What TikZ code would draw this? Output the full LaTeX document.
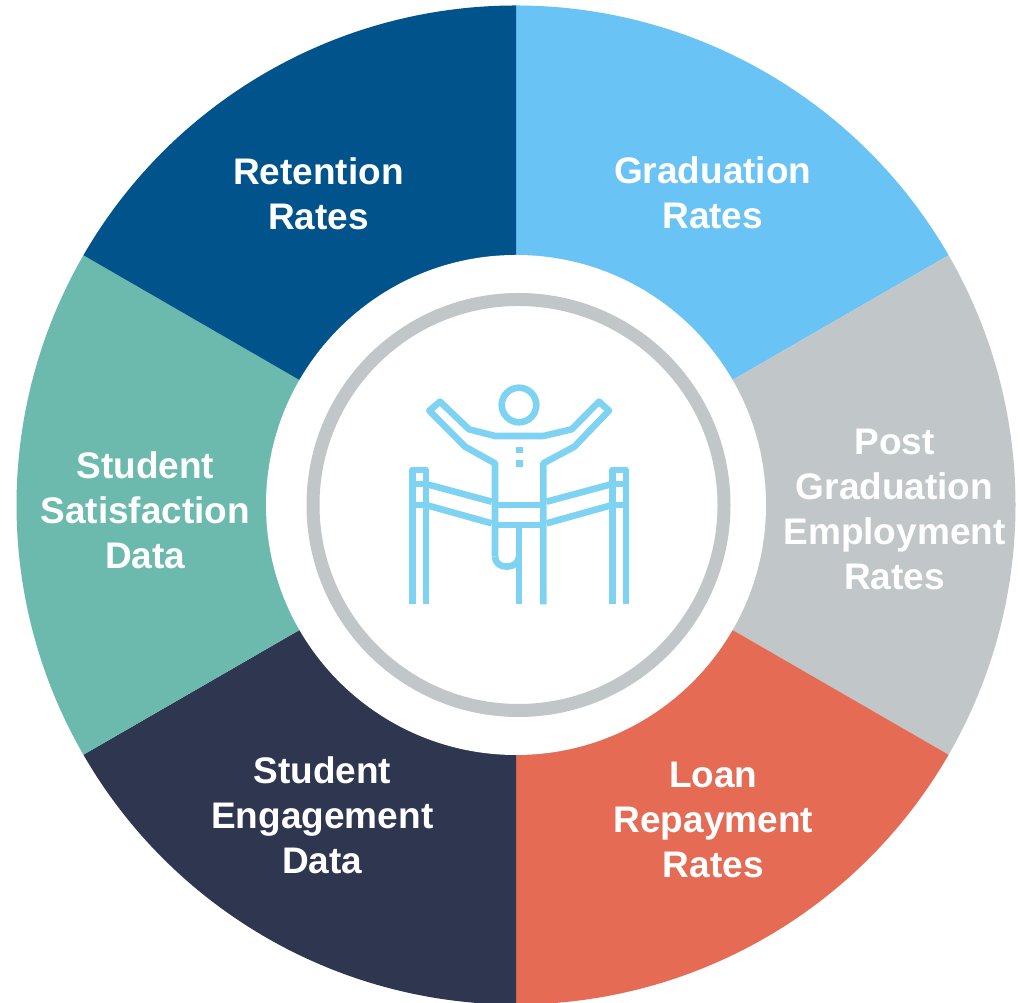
\documentclass[tikz,border=0pt]{standalone}
\usepackage{fontspec}
\setmainfont{Liberation Sans}
\definecolor{cRet}{HTML}{00548B}
\definecolor{cGrad}{HTML}{69C3F5}
\definecolor{cPost}{HTML}{C1C6C8}
\definecolor{cLoan}{HTML}{E56B54}
\definecolor{cEng}{HTML}{2E3650}
\definecolor{cSat}{HTML}{6CBAAD}
\definecolor{cIcon}{HTML}{7FD3F2}
\tikzset{
  lbl/.style={text=white,font=\fontsize{37pt}{45pt}\selectfont\bfseries,align=center,inner sep=0pt},
  icon/.style={draw=cIcon,line width=6.6pt,line join=round,fill=none},
}
\newcommand{\sect}[3]{\fill[#1] (0,0) -- (#2:499.5pt) arc[start angle=#2,end angle=#3,radius=499.5pt] -- cycle;}
\begin{document}
\begin{tikzpicture}[x=1pt,y=1pt]
\useasboundingbox (0,0) rectangle (1022,1003);
\fill[white] (0,0) rectangle (1022,1003);
\begin{scope}
\clip (0,0) rectangle (1022,1003);
\begin{scope}[shift={(516pt,498pt)}]
\sect{cGrad}{90}{30}
\sect{cPost}{30}{-30}
\sect{cLoan}{-30}{-90}
\sect{cEng}{-90}{-150}
\sect{cSat}{-150}{-210}
\sect{cRet}{-210}{-270}
\fill[white] (0,0) circle[radius=250pt];
\end{scope}
\end{scope}
\draw[cPost,line width=13pt] (518.5pt,498pt) circle[radius=205.5pt];
\begin{scope}[shift={(390pt,633pt)},x=0.33333pt,y=-0.33333pt]
\draw[icon] (387,105) circle[radius=17.3pt];
\draw[icon] (315,560) -- (315,280) -- (225,230) -- (118,122) -- (150,95) -- (237,178) -- (315,198) -- (460,198) -- (545,178) -- (627,95) -- (657,122) -- (553,230) -- (460,280) -- (460,703);
\draw[icon] (315,405) -- (460,405);
\draw[icon] (315,465) -- (460,465);
\draw[icon] (387,465) -- (387,703);
\draw[icon] (315,560) .. controls (315,578) and (330,590) .. (350,590) .. controls (370,590) and (387,578) .. (387,560);
\draw[icon] (108,342) -- (305,395);
\draw[icon] (108,405) -- (305,460);
\draw[icon] (470,395) -- (667,342);
\draw[icon] (470,460) -- (667,405);
\draw[icon] (67,703) -- (67,300) -- (108,300) -- (108,703);
\draw[icon] (67,342) -- (108,342);
\draw[icon] (67,405) -- (108,405);
\draw[icon] (667,703) -- (667,300) -- (708,300) -- (708,703);
\draw[icon] (667,342) -- (708,342);
\draw[icon] (667,405) -- (708,405);
\fill[cIcon] (378,230) rectangle (398,248);
\fill[cIcon] (378,270) rectangle (398,290);
\end{scope}
\node[lbl] (grad) at (712.7pt,810.5pt) {Graduation\\Rates};
\node[lbl] (ret) at (318.5pt,809.7pt) {Retention\\Rates};
\node[lbl] (post) at (894.5pt,494pt) {Post\\Graduation\\Employment\\Rates};
\node[lbl] (loan) at (713.3pt,183.3pt) {Loan\\Repayment\\Rates};
\node[lbl] (eng) at (322.3pt,188pt) {Student\\Engagement\\Data};
\node[lbl] (sat) at (145.3pt,493pt) {Student\\Satisfaction\\Data};
\end{tikzpicture}
\end{document}
